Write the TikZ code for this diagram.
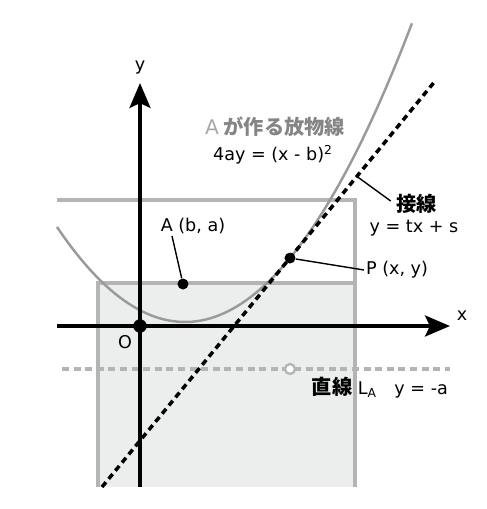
\documentclass[tikz,border=0pt]{standalone}
\usepackage{fontspec}
\setmainfont{DejaVu Sans}
\newfontfamily\jp{Noto Sans CJK JP}
\usetikzlibrary{arrows.meta,positioning}
\definecolor{linegray}{HTML}{B4B4B4}
\definecolor{curvegray}{HTML}{9A9A9A}
\definecolor{fillgray}{HTML}{ECEEED}
\definecolor{textgray}{HTML}{858585}
\definecolor{paletext}{HTML}{A8A8A8}
\tikzset{axis/.style={line width=2.2pt,-{Stealth[length=5mm,width=4.2mm,inset=1mm]}},
  frameline/.style={linegray,line width=2pt},
  tangent/.style={line width=2pt,dash pattern=on 3.5pt off 2.5pt},
  directrix/.style={linegray,line width=2pt,dash pattern=on 4pt off 2.6pt},
  leader/.style={line width=0.8pt},
  dot/.style={circle,fill=black,inner sep=0pt,minimum size=#1},
  lbl/.style={font=\fontsize{10}{12}\selectfont,inner sep=1pt},
  jlbl/.style={font=\fontsize{11.5}{13}\selectfont\jp\bfseries,inner sep=1pt}}

\begin{document}
\begin{tikzpicture}
      \useasboundingbox (-2.8,-3.66) rectangle (6.94,6.52);
      \fill [fillgray] (-0.84,-3.22) rectangle (4.3,0.86);
      \draw [frameline] (-1.66,2.52) -- (4.3,2.52) -- (4.3,-3.22);
      \draw [frameline] (-0.84,-3.22) -- (-0.84,0.86) -- (4.3,0.86);
      \draw [curvegray, line width=1.4pt, domain=-1.66:5.44, samples=80] plot (\x, {0.08+0.29*(\x-0.9)^2});

      \draw [directrix] (-1.56,-0.86) -- (6.2,-0.86);
      \node [circle, draw=linegray, fill=white, line width=1.3pt, inner sep=0pt, minimum size=2mm] (F) at (3.0,-0.86) {};

      \coordinate (tb) at (-0.76,-3.22);
      \coordinate (tt) at (5.87,4.86);
      \coordinate (tk) at (4.34,2.99);
      \draw [tangent] (tb) -- (tt);

      \draw [axis] (-1.66,0) -- (6.2,0);
      \draw [axis] (0,-3.22) -- (0,4.86);

      \node [dot=2.7mm] (O) at (0,0) {};
      \node [dot=2.2mm] (A) at (0.86,0.84) {};
      \node [dot=2.2mm] (P) at (3.0,1.359) {};

      \node [lbl] (xl) at (6.44,0.2) {x};
      \node [lbl] (yl) at (0,5.16) {y};
      \node [lbl] (ol) at (-0.3,-0.32) {O};

      \node [jlbl, textgray] (pt) at (2.7,3.98) {{\rmfamily\mdseries\color{paletext}A} が作る放物線};
      \node [lbl] (pe) at (2.66,3.42) {4ay = (x - b)\textsuperscript{2}};

      \node [jlbl] (tl) at (5.54,2.44) {接線};
      \node [lbl] (te) at (5.48,1.96) {y = tx + s};
      \draw [leader] (tk) -- ([shift={(-0.08,0.06)}]tl.west);

      \node [lbl] (Al) at (1.06,2.0) {A (b, a)};
      \draw [leader] ([xshift=-0.42cm]Al.south) -- (A);

      \node [lbl, anchor=west] (Pl) at (4.48,1.12) {P (x, y)};
      \draw [leader] (P) -- (Pl.west);

      \node [lbl, anchor=east] (dl) at (6.2,-1.24) {{\jp\bfseries\fontsize{11.5}{13}\selectfont 直線} L\textsubscript{A}\quad y = -a};
    \end{tikzpicture}
\end{document}
